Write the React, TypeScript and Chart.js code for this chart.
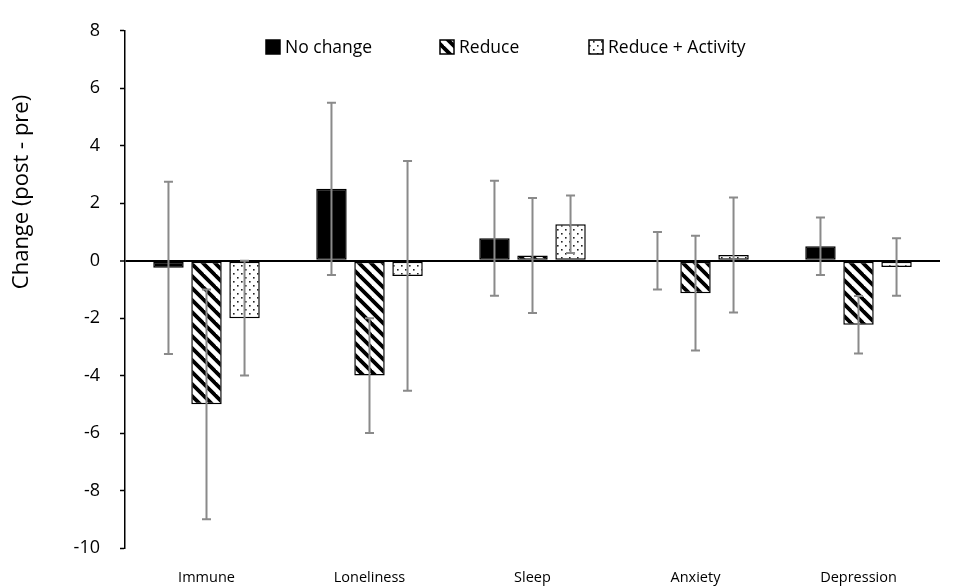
import React, { useEffect, useRef } from "react";
import { Chart, registerables } from "chart.js";

Chart.register(...registerables);

const categories = ["Immune", "Loneliness", "Sleep", "Anxiety", "Depression"];
const seriesNames = ["No change", "Reduce", "Reduce + Activity"];
const noChange = [-0.25, 2.5, 0.78, 0, 0.5];
const noChangeErr = [3, 3, 2, 1, 1];
const reduce = [-5, -4, 0.18, -1.13, -2.23];
const reduceErr = [4, 2, 2, 2, 1];
const reduceActivity = [-2, -0.53, 1.27, 0.2, -0.22];
const reduceActivityErr = [2, 4, 1, 2, 1];
const yMin = -10;
const yMax = 8;
const yStep = 2;
const yTitle = "Change (post - pre)";

const FONT = "'Open Sans', 'DejaVu Sans', sans-serif";

function makeStripes(): CanvasPattern | string {
  const c = document.createElement("canvas");
  const s = 12;
  c.width = s;
  c.height = s;
  const g = c.getContext("2d");
  if (!g) return "#000";
  g.fillStyle = "#fff";
  g.fillRect(0, 0, s, s);
  g.strokeStyle = "#000";
  g.lineWidth = 3.8;
  g.lineCap = "square";
  for (const o of [-s, 0, s]) {
    g.beginPath();
    g.moveTo(o - 2, -2);
    g.lineTo(o + s + 2, s + 2);
    g.stroke();
  }
  const p = g.createPattern(c, "repeat");
  return p || "#000";
}

function makeDots(): CanvasPattern | string {
  const c = document.createElement("canvas");
  const s = 8;
  c.width = s;
  c.height = s;
  const g = c.getContext("2d");
  if (!g) return "#fff";
  g.fillStyle = "#fff";
  g.fillRect(0, 0, s, s);
  g.fillStyle = "#222";
  g.fillRect(1, 1, 1.6, 1.6);
  g.fillRect(5, 5, 1.6, 1.6);
  const p = g.createPattern(c, "repeat");
  return p || "#fff";
}

const errorBarPlugin = {
  id: "errorBars",
  afterDatasetsDraw(chart: any) {
    const ctx = chart.ctx;
    const y = chart.scales.y;
    chart.data.datasets.forEach((ds: any, i: number) => {
      const meta = chart.getDatasetMeta(i);
      meta.data.forEach((el: any, j: number) => {
        const v = ds.data[j];
        const e = ds.errors[j];
        const yt = y.getPixelForValue(v + e);
        const yb = y.getPixelForValue(v - e);
        const x = el.x;
        ctx.save();
        ctx.strokeStyle = "#8a8a8a";
        ctx.lineWidth = 2;
        ctx.beginPath();
        ctx.moveTo(x, yt);
        ctx.lineTo(x, yb);
        ctx.moveTo(x - 4.5, yt);
        ctx.lineTo(x + 4.5, yt);
        ctx.moveTo(x - 4.5, yb);
        ctx.lineTo(x + 4.5, yb);
        ctx.stroke();
        ctx.restore();
      });
    });
  },
};

const legendPlugin = {
  id: "customLegend",
  afterDraw(chart: any) {
    const ctx = chart.ctx;
    const boxX = [266, 440, 589];
    const cy = 47;
    const size = 14;
    ctx.save();
    chart.data.datasets.forEach((ds: any, i: number) => {
      const bx = boxX[i];
      ctx.fillStyle = ds.backgroundColor;
      ctx.fillRect(bx, cy - size / 2, size, size);
      ctx.strokeStyle = "#000";
      ctx.lineWidth = 1.5;
      ctx.strokeRect(bx, cy - size / 2, size, size);
      ctx.fillStyle = "#000";
      ctx.font = `17.5px ${FONT}`;
      ctx.textBaseline = "middle";
      ctx.textAlign = "left";
      ctx.fillText(ds.label, bx + size + 5, cy + 1);
    });
    ctx.restore();
  },
};

const titlePlugin = {
  id: "yTitle",
  afterDraw(chart: any) {
    const ctx = chart.ctx;
    ctx.save();
    ctx.translate(22, 192);
    ctx.rotate(-Math.PI / 2);
    ctx.fillStyle = "#000";
    ctx.font = `22px ${FONT}`;
    ctx.textAlign = "center";
    ctx.textBaseline = "middle";
    ctx.fillText(yTitle, 0, 0);
    ctx.restore();
  },
};

export default function App() {
  const ref = useRef<HTMLCanvasElement | null>(null);

  useEffect(() => {
    document.body.style.margin = "0";
    const canvas = ref.current;
    if (!canvas) return;
    const stripes = makeStripes();
    const dots = makeDots();
    const common = {
      borderColor: "#000",
      borderWidth: 1.5,
      borderSkipped: false,
      categoryPercentage: 0.7,
      barPercentage: 0.8,
    };
    const chart = new Chart(canvas, {
      type: "bar",
      data: {
        labels: categories,
        datasets: [
          { label: seriesNames[0], data: noChange, errors: noChangeErr, backgroundColor: "#000", ...common } as any,
          { label: seriesNames[1], data: reduce, errors: reduceErr, backgroundColor: stripes, ...common } as any,
          { label: seriesNames[2], data: reduceActivity, errors: reduceActivityErr, backgroundColor: dots, ...common } as any,
        ],
      },
      options: {
        animation: false,
        responsive: false,
        maintainAspectRatio: false,
        layout: { padding: { left: 0, right: 18, top: 23, bottom: 0 } },
        plugins: {
          legend: { display: false },
          tooltip: { enabled: false },
        },
        scales: {
          x: {
            grid: { display: false, drawTicks: false },
            border: { display: false },
            ticks: {
              color: "#000",
              font: { family: FONT, size: 14.5 },
              padding: 21,
              maxRotation: 0,
            },
            afterFit(scale: any) {
              scale.height = 38;
            },
          },
          y: {
            min: yMin,
            max: yMax,
            ticks: {
              stepSize: yStep,
              color: "#000",
              font: { family: FONT, size: 18 },
              padding: 20,
            },
            grid: {
              drawTicks: true,
              tickLength: 5,
              tickColor: "#000",
              tickWidth: 1.5,
              color: (c: any) => (c.tick && c.tick.value === 0 ? "#000" : "rgba(0,0,0,0)"),
              lineWidth: (c: any) => (c.tick && c.tick.value === 0 ? 2 : 1),
            },
            border: { display: true, color: "#000", width: 1.5 },
            afterFit(scale: any) {
              scale.width = 125;
            },
          },
        },
      } as any,
      plugins: [errorBarPlugin, legendPlugin, titlePlugin],
    });
    return () => chart.destroy();
  }, []);

  return <canvas ref={ref} width={958} height={586} style={{ display: "block", width: 958, height: 586 }} />;
}
